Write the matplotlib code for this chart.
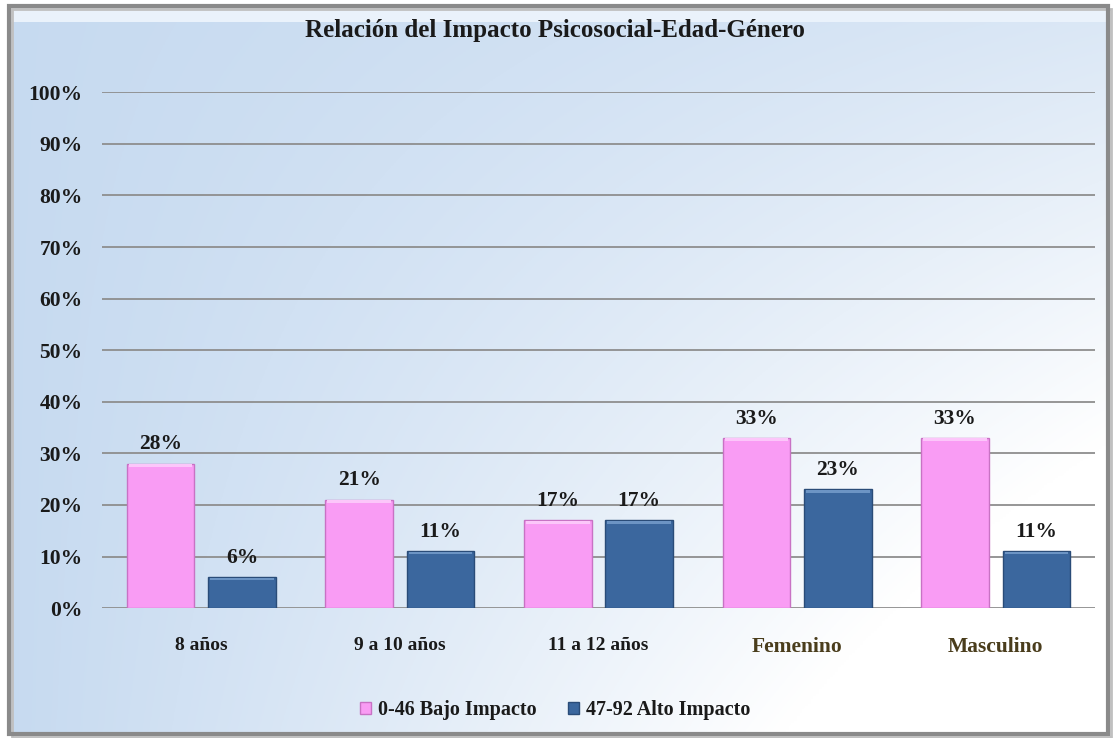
import numpy as np
import matplotlib.pyplot as plt
from matplotlib.patches import Rectangle

categories = ['8 años', '9 a 10 años', '11 a 12 años', 'Femenino', 'Masculino']
bajo = [28, 21, 17, 33, 33]
alto = [6, 11, 17, 23, 11]
series_names = ['0-46 Bajo Impacto', '47-92 Alto Impacto']
yticks = [0, 10, 20, 30, 40, 50, 60, 70, 80, 90, 100]

plt.rcParams['font.family'] = ['Liberation Serif', 'DejaVu Serif']
plt.rcParams['font.weight'] = 'bold'

fig = plt.figure(figsize=(11.17, 7.38), dpi=100)
fig.patch.set_facecolor('white')

# background gradient: blue along the left and top, white at the lower right
bg = fig.add_axes([0.008, 0.006, 0.984, 0.986], zorder=0)
gx = np.linspace(0, 1, 400)
gy = np.linspace(0, 1, 300)   # 0 = top row
U, V = np.meshgrid(gx, gy)
t = np.clip(U * (0.35 + 1.0 * V) + 0.05, 0, 1) ** 1.1
c0 = np.array([0.77, 0.85, 0.94])
c1 = np.array([1.0, 1.0, 1.0])
img = c0[None, None, :] * (1 - t[..., None]) + c1[None, None, :] * t[..., None]
bg.imshow(img, extent=[0, 1, 0, 1], aspect='auto', origin='upper')
# lighter strip along the top edge
bg.add_patch(Rectangle((0, 0.978), 1, 0.022, color='#eaf2fb', lw=0))
bg.set_xlim(0, 1)
bg.set_ylim(0, 1)
bg.axis('off')

# grey frame around the whole chart
frame = fig.add_axes([0, 0, 1, 1], zorder=5)
frame.patch.set_alpha(0)
frame.add_patch(Rectangle((0.008, 0.006), 0.984, 0.986, fill=False,
                          edgecolor='#8a8a8a', lw=3))
frame.add_patch(Rectangle((0.011, 0.002), 0.984, 0.986, fill=False,
                          edgecolor='#c0c0c0', lw=2, zorder=-1))
frame.set_xlim(0, 1)
frame.set_ylim(0, 1)
frame.axis('off')

ax = fig.add_axes([0.0913, 0.176, 0.889, 0.699], zorder=2)
ax.patch.set_alpha(0)

ind = np.arange(len(categories))
width = 0.34
off = 0.205
rects1 = ax.bar(ind - off, bajo, width, color='#f99cf4', edgecolor='#c872c4',
                lw=1, zorder=3)
rects2 = ax.bar(ind + off, alto, width, color='#3b679e', edgecolor='#2a4c78',
                lw=1, zorder=3)

# small highlight along the top of each bar
for rect, hl in [(r, '#fcc6fa') for r in rects1] + [(r, '#6c94c4') for r in rects2]:
    ax.add_patch(Rectangle((rect.get_x() + 0.01, rect.get_height() - 0.6),
                           rect.get_width() - 0.02, 0.5, color=hl, lw=0, zorder=4))

def autolabel(rects):
    for rect in rects:
        h = rect.get_height()
        ax.text(rect.get_x() + rect.get_width() / 2., h + 1.8, '%d%%' % h,
                ha='center', va='bottom', fontsize=15.5, fontweight='bold',
                color='#1a1a1a')

autolabel(rects1)
autolabel(rects2)

ax.set_xlim(-0.5, len(categories) - 0.5)
ax.set_ylim(0, 100)
ax.set_yticks(yticks)
ax.set_yticklabels(['%d%%' % v for v in yticks], fontsize=15.5, fontweight='bold',
                   color='#1a1a1a')
ax.yaxis.grid(True, color='#8e8e8e', lw=1.3, zorder=1)
ax.tick_params(axis='y', length=0, pad=14)
ax.tick_params(axis='x', length=0, pad=21)
ax.set_xticks(ind)
ax.set_xticklabels(categories, fontsize=14, fontweight='bold', color='#1a1a1a')
for lbl in ax.get_xticklabels()[3:]:
    lbl.set_color('#4a3d1c')
    lbl.set_fontsize(15.5)
for s in ax.spines.values():
    s.set_visible(False)

fig.text(0.497, 0.958, 'Relación del Impacto Psicosocial-Edad-Género',
         ha='center', va='center', fontsize=18, fontweight='bold',
         color='#1a1a1a', zorder=6)

leg = fig.legend((rects1[0], rects2[0]), series_names, loc='center',
                 bbox_to_anchor=(0.497, 0.038), ncol=2, frameon=False,
                 fontsize=14.5, handlelength=0.55, handleheight=0.55,
                 handletextpad=0.3, columnspacing=1.6)
for txt in leg.get_texts():
    txt.set_fontweight('bold')
    txt.set_color('#1a1a1a')

fig.savefig('out.png', dpi=100)
